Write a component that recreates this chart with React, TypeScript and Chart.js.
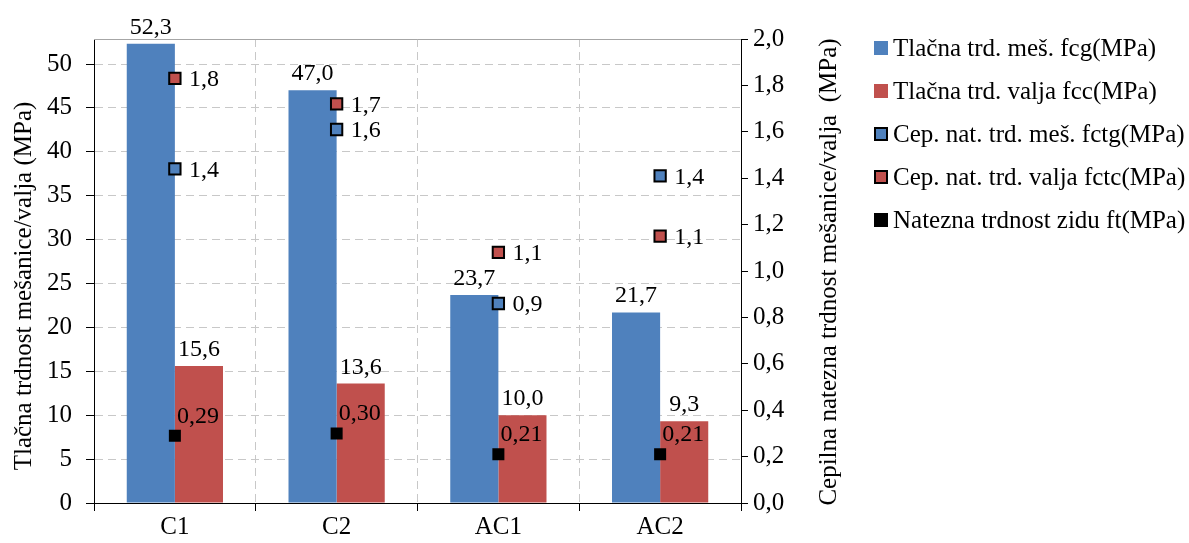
import React, { useEffect, useRef } from "react";
import { Chart, registerables } from "chart.js";

Chart.register(...registerables);

const categories = ["C1", "C2", "AC1", "AC2"];
const fcg = [52.3, 47.0, 23.7, 21.7];
const fcc = [15.6, 13.6, 10.0, 9.3];
const fctg = [1.44, 1.61, 0.86, 1.41];
const fctc = [1.83, 1.72, 1.08, 1.15];
const ft = [0.29, 0.3, 0.21, 0.21];
const seriesNames = [
  "Tlačna trd. meš. fcg(MPa)",
  "Tlačna trd. valja fcc(MPa)",
  "Cep. nat. trd. meš. fctg(MPa)",
  "Cep. nat. trd. valja fctc(MPa)",
  "Natezna trdnost zidu ft(MPa)",
];
const leftTitle = "Tlačna trdnost mešanice/valja (MPa)";
const rightTitle = "Cepilna natezna trdnost mešanice/valja  (MPa)";

const BLUE = "#4F81BD";
const RED = "#C0504D";
const FONT = "'Liberation Serif', 'Times New Roman', serif";

const fmt = (v: number, d: number) => v.toFixed(d).replace(".", ",");

const decorPlugin = {
  id: "decor",
  afterDatasetsDraw(chart: any) {
    const ctx = chart.ctx;
    const area = chart.chartArea;
    ctx.save();
    // top border
    ctx.strokeStyle = "#a6a6a6";
    ctx.lineWidth = 1;
    ctx.beginPath();
    ctx.moveTo(area.left, area.top + 0.5);
    ctx.lineTo(area.right, area.top + 0.5);
    ctx.stroke();

    ctx.fillStyle = "#000";
    ctx.font = `24px ${FONT}`;
    ctx.textBaseline = "alphabetic";
    // bar labels
    [0, 1].forEach((di) => {
      const meta = chart.getDatasetMeta(di);
      const data = chart.data.datasets[di].data;
      meta.data.forEach((el: any, j: number) => {
        ctx.textAlign = "center";
        ctx.fillText(fmt(data[j], 1), el.x, el.y - 10);
      });
    });
    // marker labels
    [2, 3].forEach((di) => {
      const meta = chart.getDatasetMeta(di);
      const data = chart.data.datasets[di].data;
      meta.data.forEach((el: any, j: number) => {
        ctx.textAlign = "left";
        ctx.fillText(fmt(data[j], 1), el.x + 14, el.y + 8);
      });
    });
    {
      const meta = chart.getDatasetMeta(4);
      const data = chart.data.datasets[4].data;
      meta.data.forEach((el: any, j: number) => {
        ctx.textAlign = "left";
        ctx.fillText(fmt(data[j], 2), el.x + 2, el.y - 13);
      });
    }

    // axis titles
    ctx.font = `25px ${FONT}`;
    ctx.textAlign = "center";
    ctx.textBaseline = "middle";
    ctx.save();
    ctx.translate(24, 286);
    ctx.rotate(-Math.PI / 2);
    ctx.fillText(leftTitle, 0, 0);
    ctx.restore();
    ctx.save();
    ctx.translate(829, 272);
    ctx.rotate(-Math.PI / 2);
    ctx.fillText(rightTitle, 0, 0);
    ctx.restore();

    // legend
    const fills = [BLUE, RED, BLUE, RED, "#000"];
    const bordered = [false, false, true, true, false];
    ctx.font = `25px ${FONT}`;
    ctx.textAlign = "left";
    ctx.textBaseline = "middle";
    seriesNames.forEach((name, i) => {
      const cy = 48 + 43 * i;
      const x = 874;
      const s = 14;
      ctx.fillStyle = fills[i];
      ctx.fillRect(x, cy - s / 2, s, s);
      if (bordered[i]) {
        ctx.strokeStyle = "#000";
        ctx.lineWidth = 2;
        ctx.strokeRect(x + 1, cy - s / 2 + 1, s - 2, s - 2);
      }
      ctx.fillStyle = "#000";
      ctx.fillText(name, 893, cy + 1);
    });
    ctx.restore();
  },
};

export default function App() {
  const ref = useRef<HTMLCanvasElement | null>(null);
  useEffect(() => {
    if (!ref.current) return;
    const chart = new Chart(ref.current, {
      type: "bar",
      data: {
        labels: categories,
        datasets: [
          { type: "bar", label: seriesNames[0], data: fcg, backgroundColor: BLUE, yAxisID: "y", order: 2 },
          { type: "bar", label: seriesNames[1], data: fcc, backgroundColor: RED, yAxisID: "y", order: 2 },
          {
            type: "line", label: seriesNames[2], data: fctg, yAxisID: "y1", showLine: false,
            pointStyle: "rect", pointRadius: 8, pointBackgroundColor: BLUE, pointBorderColor: "#000",
            pointBorderWidth: 2, order: 1,
          },
          {
            type: "line", label: seriesNames[3], data: fctc, yAxisID: "y1", showLine: false,
            pointStyle: "rect", pointRadius: 8, pointBackgroundColor: RED, pointBorderColor: "#000",
            pointBorderWidth: 2, order: 1,
          },
          {
            type: "line", label: seriesNames[4], data: ft, yAxisID: "y1", showLine: false,
            pointStyle: "rect", pointRadius: 8.5, pointBackgroundColor: "#000", pointBorderColor: "#000",
            pointBorderWidth: 0, order: 1,
          },
        ] as any,
      },
      options: {
        animation: false,
        responsive: true,
        maintainAspectRatio: false,
        layout: { padding: { top: 39, right: 328, left: 0, bottom: 0 } },
        datasets: { bar: { categoryPercentage: 0.595, barPercentage: 1 } },
        plugins: { legend: { display: false }, tooltip: { enabled: false } },
        scales: {
          x: {
            grid: {
              color: "#c8c8c8", lineWidth: 1, drawTicks: true, tickLength: 8,
              tickColor: "#000", tickBorderDash: [],
            },
            border: { color: "#000", width: 1, dash: [8, 5] },
            ticks: { color: "#000", font: { family: FONT, size: 25 }, padding: 1 },
            afterFit: (s: any) => { s.height = 40; },
          },
          y: {
            position: "left",
            min: 0,
            max: 52.85,
            grid: {
              color: "#c8c8c8", lineWidth: 1, tickLength: 8, tickColor: "#000", tickBorderDash: [],
            },
            border: { color: "#000", width: 1, dash: [8, 5] },
            ticks: {
              stepSize: 5, includeBounds: false, color: "#000", padding: 14,
              font: { family: FONT, size: 25 },
              callback: (v: any) => String(Math.round(v)),
            },
            afterFit: (s: any) => { s.width = 94; },
          },
          y1: {
            position: "right",
            min: 0,
            max: 2,
            grid: { drawOnChartArea: false, tickLength: 7, tickColor: "#000", tickBorderDash: [] },
            border: { color: "#000", width: 1 },
            ticks: {
              stepSize: 0.2, color: "#000", padding: 5,
              font: { family: FONT, size: 25 },
              callback: (v: any) => fmt(Number(v), 1),
            },
            afterFit: (s: any) => { s.width = 120; },
          },
        },
      } as any,
      plugins: [decorPlugin],
    });
    return () => chart.destroy();
  }, []);
  return (
    <div style={{ position: "fixed", left: 0, top: 0, width: 1189, height: 543, background: "#fff" }}>
      <canvas ref={ref} />
    </div>
  );
}
